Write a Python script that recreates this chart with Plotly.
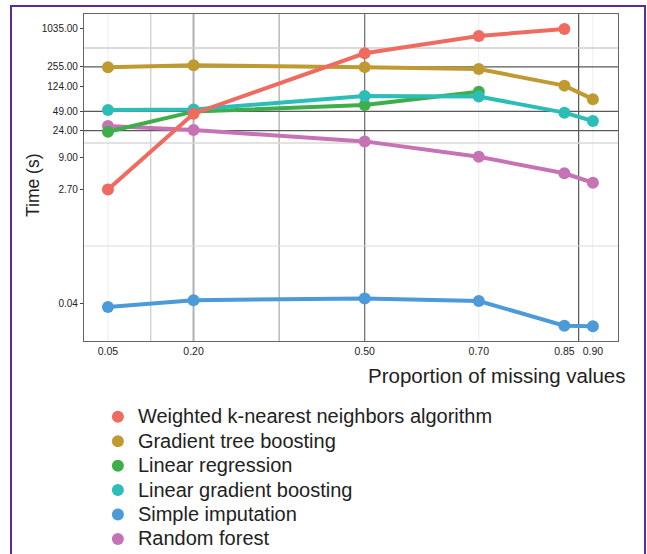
import plotly.graph_objects as go

proportions = [0.05, 0.20, 0.50, 0.70, 0.85, 0.90]
tick_vals_y = [0.04, 2.70, 9.00, 24.00, 49.00, 124.00, 255.00, 1035.00]
tick_text_y = ["0.04", "2.70", "9.00", "24.00", "49.00", "124.00", "255.00", "1035.00"]
tick_text_x = ["0.05", "0.20", "0.50", "0.70", "0.85", "0.90"]

names = [
    "Weighted k-nearest neighbors algorithm",
    "Gradient tree boosting",
    "Linear regression",
    "Linear gradient boosting",
    "Simple imputation",
    "Random forest",
]
knn = [2.70, 45.0, 421.0, 798.0, 1035.0, None]
gtb = [250.0, 270.0, 252.0, 235.0, 127.0, 77.0]
linreg = [23.0, 48.5, 62.0, 101.0, None, None]
lgb = [51.5, 52.5, 86.5, 85.0, 46.7, 34.3]
simple = [0.035, 0.045, 0.048, 0.0435, 0.0175, 0.0171]
rf = [28.5, 24.5, 16.1, 9.1, 4.94, 3.48]
series = [knn, gtb, linreg, lgb, simple, rf]
colors = ["#EF6B5F", "#BF9A30", "#3DAE4A", "#2DBDB8", "#4C9AD8", "#C673B6"]

fig = go.Figure()

order = [4, 5, 2, 3, 1, 0]
for i in order:
    fig.add_trace(go.Scatter(
        x=proportions, y=series[i], mode="lines+markers",
        line=dict(color=colors[i], width=4),
        marker=dict(color=colors[i], size=12),
        showlegend=False, connectgaps=False,
    ))
for i in range(6):
    fig.add_trace(go.Scatter(
        x=[None], y=[None], mode="markers",
        name='<span style="font-size:20px">' + names[i] + '</span>',
        marker=dict(color=colors[i], size=12),
    ))

shapes = []
vgrid = [(0.05, "#ececec", 1), (0.125, "#c8c8c8", 1.2), (0.20, "#b0b0b0", 2),
         (0.35, "#a8a8a8", 1.2), (0.50, "#6a6a6a", 1.2), (0.70, "#ececec", 1),
         (0.875, "#555555", 1.2), (0.90, "#ececec", 1)]
for xv, c, w in vgrid:
    shapes.append(dict(type="line", xref="x", yref="paper", x0=xv, x1=xv, y0=0, y1=1,
                       line=dict(color=c, width=w), layer="below"))
hgrid = [(511.0, "#cfcfcf", 1.5), (255.0, "#5a5a5a", 1.2), (49.0, "#5a5a5a", 1.2),
         (24.0, "#5a5a5a", 1.2), (15.2, "#d8d8d8", 1.5), (0.334, "#dcdcdc", 1.2)]
for yv, c, w in hgrid:
    shapes.append(dict(type="line", xref="paper", yref="y", x0=0, x1=1, y0=yv, y1=yv,
                       line=dict(color=c, width=w), layer="below"))
shapes.append(dict(type="rect", xref="paper", yref="paper",
                   x0=-0.1367, x1=1.0506, y0=-0.70, y1=1.0245,
                   line=dict(color="#5B2C91", width=2)))

fig.update_layout(
    width=647, height=554,
    margin=dict(l=84, r=29, t=14, b=213, autoexpand=False),
    paper_bgcolor="white", plot_bgcolor="white",
    font=dict(family="Liberation Sans, Arial, sans-serif", color="#222222"),
    shapes=shapes,
    showlegend=True,
    legend=dict(x=0.026, y=-0.179, xanchor="left", yanchor="top",
                font=dict(size=16.5, color="#222222"), itemwidth=30,
                bgcolor="rgba(0,0,0,0)", tracegroupgap=0),
    annotations=[
        dict(text="Proportion of missing values", xref="paper", yref="paper",
             x=1.019, y=-0.104, xanchor="right", yanchor="middle", showarrow=False,
             font=dict(size=20.5, color="#222222")),
        dict(text="Time (s)", xref="paper", yref="paper", x=-0.0964, y=0.4755,
             xanchor="center", yanchor="middle", textangle=-90, showarrow=False,
             font=dict(size=17.5, color="#222222")),
    ],
)
fig.update_xaxes(
    range=[0.008, 0.944], tickvals=proportions, ticktext=tick_text_x,
    showgrid=False, zeroline=False, showline=True, mirror=True,
    linecolor="#666666", linewidth=1.2, ticks="",
    tickfont=dict(family="Liberation Sans, sans-serif", size=10.5, color="#222222"),
)
fig.update_yaxes(
    type="log", range=[-2.004, 3.256], tickvals=tick_vals_y, ticktext=tick_text_y,
    showgrid=False, zeroline=False, showline=True, mirror=True,
    linecolor="#666666", linewidth=1.2, ticks="outside", ticklen=3, tickcolor="#444444",
    tickfont=dict(family="Liberation Sans, sans-serif", size=10, color="#222222"),
)

fig.write_html("out.html", config={"displayModeBar": False},
               post_script="document.body.style.margin='0';")
